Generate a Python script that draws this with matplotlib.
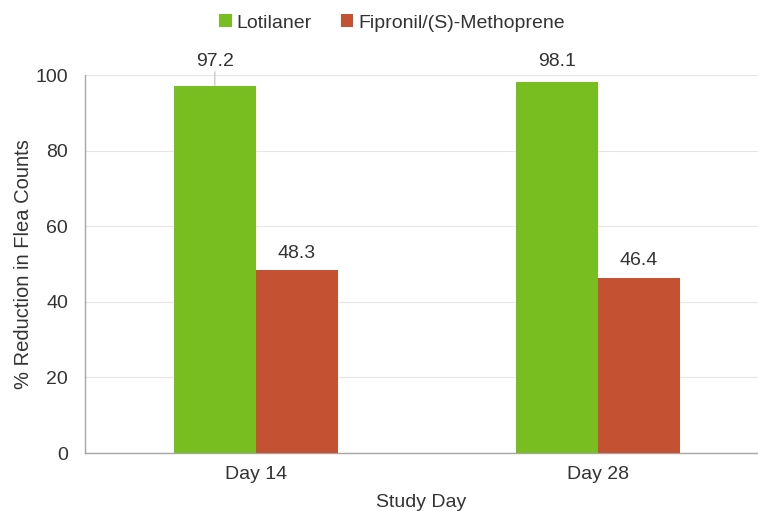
import matplotlib.pyplot as plt
import numpy as np

plt.rcParams['font.family'] = ['Liberation Sans', 'DejaVu Sans']

days = ['Day 14', 'Day 28']
lotilaner = [97.2, 98.1]
fipronil = [48.3, 46.4]
series_names = ['Lotilaner', 'Fipronil/(S)-Methoprene']
colors = ['#78BE21', '#C45232']
yticks = [0, 20, 40, 60, 80, 100]

text_col = '#333333'
fs = 14
fig = plt.figure(figsize=(7.58, 5.11), dpi=100)
ax = fig.add_axes([0.112, 0.1135, 0.888, 0.7397])

x = np.arange(len(days))
w = 0.24
b1 = ax.bar(x - w / 2, lotilaner, w, color=colors[0], label=series_names[0], zorder=3)
b2 = ax.bar(x + w / 2, fipronil, w, color=colors[1], label=series_names[1], zorder=3)

for i, v in enumerate(lotilaner):
    if i == 0:
        # label sits above the axis top, with a small leader line down to the bar
        ax.annotate('', xy=(x[i] - w / 2, v), xytext=(x[i] - w / 2, 100.9),
                    annotation_clip=False,
                    arrowprops=dict(arrowstyle='-', color='#bfbfbf', lw=0.8,
                                    shrinkA=0, shrinkB=0))
    ax.text(x[i] - w / 2, 101.3, f'{v}', ha='center', va='bottom',
            fontsize=fs, color=text_col)
for i, v in enumerate(fipronil):
    ax.text(x[i] + w / 2, v + 2.2, f'{v}', ha='center', va='bottom',
            fontsize=fs, color=text_col)

ax.set_xlim(-0.5, 1.468)
ax.set_ylim(0, 100)
ax.set_yticks(yticks)
ax.set_xticks(x)
ax.set_xticklabels(days)
ax.tick_params(axis='both', length=0, labelsize=fs, colors=text_col, pad=9)
ax.tick_params(axis='y', pad=12)
ax.grid(axis='y', color='#e6e6e6', lw=0.8, zorder=0)
for s in ['top', 'right']:
    ax.spines[s].set_visible(False)
for s in ['left', 'bottom']:
    ax.spines[s].set_color('#a6a6a6')
    ax.spines[s].set_linewidth(1.0)

ax.set_ylabel('% Reduction in Flea Counts', fontsize=14.5, color=text_col, labelpad=2)
ax.set_xlabel('Study Day', fontsize=fs, color=text_col, labelpad=8)

fig.legend(handles=[b1, b2], loc='center', bbox_to_anchor=(0.517, 0.955), ncol=2,
           frameon=False, fontsize=14, handlelength=0.65, handleheight=0.65,
           handletextpad=0.25, columnspacing=1.5, labelcolor=text_col)

fig.savefig('out.png', dpi=100)
